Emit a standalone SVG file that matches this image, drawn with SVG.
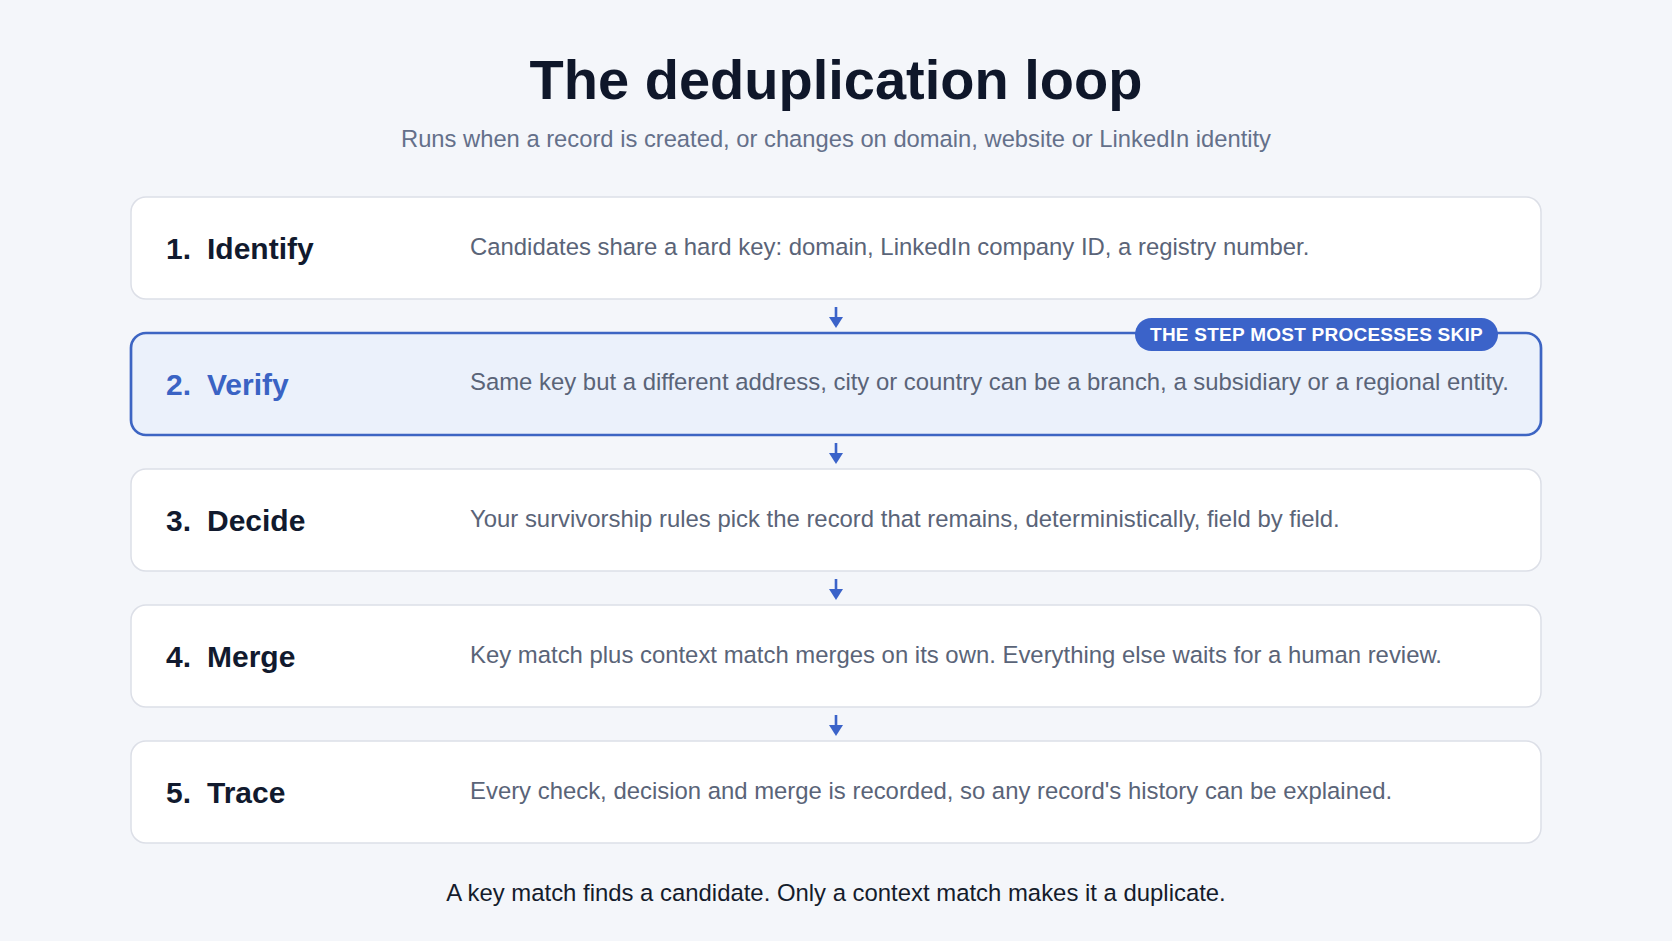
<svg xmlns="http://www.w3.org/2000/svg" width="1672" height="941" viewBox="0 0 1672 941">
  <defs>
    <style>
      .bg { fill: #f4f6fa; }
      .title { font-family: "Liberation Sans", Arial, sans-serif; font-weight: bold; font-size: 56px; fill: #0f172a; text-anchor: middle; }
      .sub { font-family: "Liberation Sans", Arial, sans-serif; font-size: 23.75px; fill: #64708a; text-anchor: middle; }
      .foot { font-family: "Liberation Sans", Arial, sans-serif; font-size: 23.9px; fill: #151c2c; text-anchor: middle; }
      .card { fill: #ffffff; stroke: #dcdfe7; stroke-width: 1.5; }
      .card-hl { fill: #ebf1fb; stroke: #3d65c3; stroke-width: 2.7; }
      .num, .name { font-family: "Liberation Sans", Arial, sans-serif; font-weight: bold; font-size: 30px; fill: #111a2e; }
      .hl { fill: #3a63c4; }
      .desc { font-family: "Liberation Sans", Arial, sans-serif; font-size: 23.9px; fill: #5a6478; }
      .badge { fill: #3b63c9; }
      .badge-t { font-family: "Liberation Sans", Arial, sans-serif; font-weight: bold; font-size: 19px; letter-spacing: 0.25px; fill: #ffffff; text-anchor: middle; }
      .conn { stroke: #3b63c9; stroke-width: 2.6; fill: none; }
    </style>
    <marker id="arrow" viewBox="0 0 11 14" refX="1" refY="7" markerWidth="11" markerHeight="14" markerUnits="userSpaceOnUse" orient="auto">
      <path d="M0,0 L11,7 L0,14 z" fill="#3b63c9"/>
    </marker>
  </defs>

  <rect class="bg" x="0" y="0" width="1672" height="941"/>

  <g id="header">
    <text class="title" x="836" y="99">The deduplication loop</text>
    <text class="sub" x="836" y="147">Runs when a record is created, or changes on domain, website or LinkedIn identity</text>
  </g>

  <g id="step1">
    <rect class="card" x="131" y="197" width="1410" height="102" rx="15"/>
    <text class="num" x="166" y="259">1.</text>
    <text class="name" x="207" y="259">Identify</text>
    <text class="desc" x="470" y="255">Candidates share a hard key: domain, LinkedIn company ID, a registry number.</text>
  </g>

  <g id="step2">
    <rect class="card-hl" x="131" y="333" width="1410" height="102" rx="15"/>
    <text class="num hl" x="166" y="395">2.</text>
    <text class="name hl" x="207" y="395">Verify</text>
    <text class="desc" x="470" y="390">Same key but a different address, city or country can be a branch, a subsidiary or a regional entity.</text>
  </g>

  <g id="badge">
    <rect class="badge" x="1135" y="318" width="363" height="33" rx="16.5"/>
    <text class="badge-t" x="1316.5" y="341">THE STEP MOST PROCESSES SKIP</text>
  </g>

  <g id="step3">
    <rect class="card" x="131" y="469" width="1410" height="102" rx="15"/>
    <text class="num" x="166" y="531">3.</text>
    <text class="name" x="207" y="531">Decide</text>
    <text class="desc" x="470" y="527">Your survivorship rules pick the record that remains, deterministically, field by field.</text>
  </g>

  <g id="step4">
    <rect class="card" x="131" y="605" width="1410" height="102" rx="15"/>
    <text class="num" x="166" y="667">4.</text>
    <text class="name" x="207" y="667">Merge</text>
    <text class="desc" x="470" y="663">Key match plus context match merges on its own. Everything else waits for a human review.</text>
  </g>

  <g id="step5">
    <rect class="card" x="131" y="741" width="1410" height="102" rx="15"/>
    <text class="num" x="166" y="803">5.</text>
    <text class="name" x="207" y="803">Trace</text>
    <text class="desc" x="470" y="799">Every check, decision and merge is recorded, so any record's history can be explained.</text>
  </g>

  <g id="connectors">
    <line class="conn" x1="836" y1="307" x2="836" y2="318" marker-end="url(#arrow)"/>
    <line class="conn" x1="836" y1="443" x2="836" y2="454" marker-end="url(#arrow)"/>
    <line class="conn" x1="836" y1="579" x2="836" y2="590" marker-end="url(#arrow)"/>
    <line class="conn" x1="836" y1="715" x2="836" y2="726" marker-end="url(#arrow)"/>
  </g>

  <g id="footer">
    <text class="foot" x="836" y="901">A key match finds a candidate. Only a context match makes it a duplicate.</text>
  </g>
</svg>
